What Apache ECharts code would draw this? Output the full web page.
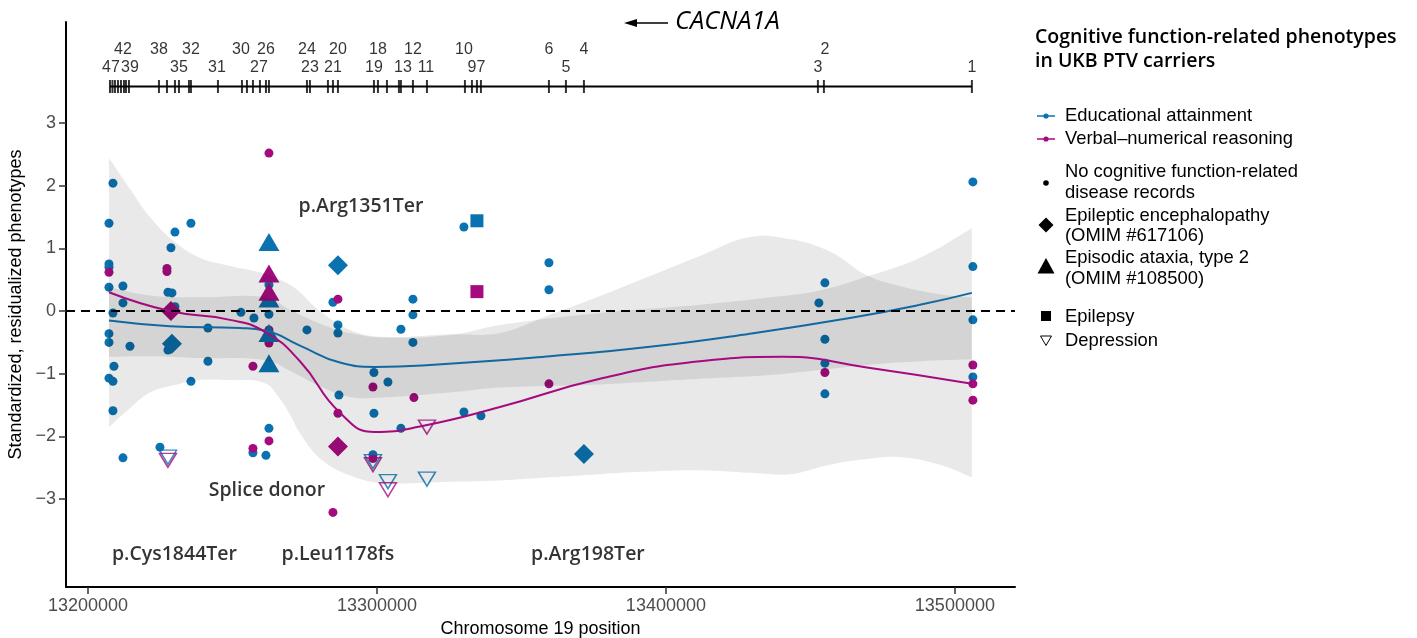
<!DOCTYPE html>
<html><head><meta charset="utf-8">
<script src="https://cdn.jsdelivr.net/npm/echarts@6/dist/echarts.min.js"></script>
<style>html,body{margin:0;padding:0;background:#fff}#c{width:1417px;height:638px}</style>
</head><body><div id="c"></div>
<script>
// ---------- axes ----------
const X_MIN = 13192400, X_MAX = 13520800, Y_MIN = -4.40, Y_MAX = 4.61;
const xTicks = [13200000, 13300000, 13400000, 13500000];
const yTicks = [-3, -2, -1, 0, 1, 2, 3];

// ---------- gene track (CACNA1A exons) ----------
const exonPos = [13207612,13208478,13209343,13210381,13211419,13212457,13213149,13214187,13224567,13227336,13230104,13231488,13234948,13235640,13244983,13253287,13255017,13257093,13259516,13261592,13262630,13275779,13276817,13283045,13284775,13286505,13298962,13300346,13303460,13307612,13308304,13312457,13317301,13330450,13332872,13334602,13335986,13359516,13365398,13371626,13452595,13454671,13505882];
const exonTopLabels = ['42','38','32','30','26','24','20','18','12','10','6','4','2'];
const exonTopPos = [13212111,13224567,13235640,13252941,13261592,13275779,13286505,13300346,13312457,13330104,13359516,13371626,13455017];
const exonBottomLabels = ['47','39','35','31','27','23','21','19','13','11','9','7','5','3','1'];
const exonBottomPos = [13207958,13214533,13231488,13244637,13259170,13276817,13284775,13298962,13308997,13316955,13332872,13335986,13365398,13452595,13505882];

// ---------- points: [position, standardized phenotype] ----------
const eaCircles = [
 [13207266,1.40],[13208651,2.04],[13207266,0.75],[13207266,0.70],[13207266,0.38],[13212111,0.40],[13212111,0.13],
 [13208651,-0.03],[13207266,-0.36],[13207266,-0.50],[13214533,-0.56],[13208997,-0.88],[13207266,-1.07],[13208651,-1.12],
 [13208651,-1.59],[13212111,-2.34],
 [13235640,1.40],[13230104,1.26],[13228720,1.01],[13227682,0.30],[13229066,0.29],[13230104,0.07],[13227682,-0.62],
 [13235640,-1.12],[13224913,-2.17],
 [13241522,-0.27],[13241522,-0.80],[13252941,-0.02],[13257439,-0.11],[13262630,-0.05],[13262630,0.42],
 [13262630,-1.87],[13257093,-2.26],[13261592,-2.30],
 [13275779,-0.30],[13284775,0.14],[13286505,-0.22],[13286505,-0.35],[13286851,-1.34],
 [13312457,0.19],[13312457,-0.06],[13308304,-0.29],[13312457,-0.50],
 [13298962,-0.98],[13303806,-1.13],[13298962,-1.63],[13308304,-1.87],[13298616,-2.29],
 [13330104,1.34],[13330104,-1.61],[13335986,-1.67],
 [13359516,0.77],[13359516,0.34],
 [13455017,0.45],[13452941,0.13],[13455017,-0.45],[13455017,-0.83],[13455017,-1.32],
 [13506228,2.06],[13506228,0.71],[13506228,-0.14],[13506228,-1.05]
];
const vnrCircles = [
 [13207266,0.62],[13227336,0.68],[13227336,0.63],
 [13262630,2.52],[13262630,-0.30],[13262630,-0.51],[13257093,-0.88],[13262630,-2.07],[13257093,-2.19],
 [13286505,0.19],[13286505,-1.63],[13284775,-3.21],
 [13298616,-1.21],[13298616,-2.35],[13312803,-1.38],
 [13359516,-1.16],[13455017,-0.98],
 [13506228,-0.86],[13506228,-1.16],[13506228,-1.42]
];
const eaTriangles = [[13262630,1.10],[13262630,0.20],[13262630,-0.35],[13262630,-0.83]];
const vnrTriangles = [[13262630,0.60],[13262630,0.31]];
const eaDiamonds = [[13286505,0.73],[13229066,-0.52],[13371626,-2.28]];
const vnrDiamonds = [[13228720,0.00],[13286505,-2.16]];
const eaSquares = [[13334602,1.44]];
const vnrSquares = [[13334602,0.31]];
const eaDepression = [[13227682,-2.33],[13298616,-2.40],[13303806,-2.72],[13317301,-2.68]];
const vnrDepression = [[13227682,-2.38],[13298616,-2.45],[13303806,-2.85],[13317301,-1.85]];

// ---------- smooth fits ----------
const eaFitPos = [13207266,13228374,13252595,13261246,13273356,13287197,13299308,13318339,13359861,13394464,13429066,13463668,13487889,13505882];
const eaFit = [-0.15,-0.24,-0.27,-0.31,-0.55,-0.82,-0.89,-0.86,-0.72,-0.57,-0.36,-0.11,0.10,0.29];
const vnrFitPos = [13207266,13228374,13249135,13261246,13273356,13287197,13299308,13314879,13342561,13377163,13411765,13440485,13469550,13505882];
const vnrFit = [0.30,0.00,-0.14,-0.33,-0.80,-1.62,-1.93,-1.84,-1.53,-1.08,-0.80,-0.73,-0.90,-1.16];

// ---------- confidence ribbons ----------
const eaRibPos = [13207266,13221453,13238754,13261246,13269896,13280277,13290657,13302076,13325260,13342561,13377163,13411765,13435986,13453287,13469550,13487889,13505882];
const eaRibUpper = [0.38,0.25,0.22,0.22,0.02,-0.20,-0.35,-0.42,-0.38,-0.22,-0.03,0.10,0.22,0.33,0.55,0.85,1.32];
const eaRibLower = [-0.73,-0.72,-0.75,-0.78,-0.95,-1.20,-1.37,-1.38,-1.30,-1.22,-1.17,-1.08,-1.02,-0.94,-0.86,-0.80,-0.77];
const vnrRibPos = [13207266,13214533,13221453,13230104,13238754,13249135,13261246,13266436,13269896,13273356,13280277,13290657,13302076,13325260,13342561,13359861,13377163,13394464,13411765,13429066,13442907,13456747,13469550,13480969,13494810,13505882];
const vnrRibUpper = [2.44,1.95,1.50,1.10,0.85,0.72,0.60,0.50,0.42,0.30,0.00,-0.30,-0.41,-0.37,-0.35,-0.06,0.24,0.56,0.88,1.18,1.15,0.95,0.57,0.40,0.27,0.22];
const vnrRibLower = [-1.85,-1.55,-1.30,-1.18,-1.10,-1.10,-1.15,-1.40,-1.65,-1.95,-2.35,-2.62,-2.74,-2.72,-2.70,-2.65,-2.60,-2.56,-2.54,-2.58,-2.60,-2.45,-2.36,-2.33,-2.45,-2.65];

// ---------- annotations ----------
const annoText = ['p.Arg1351Ter','Splice donor','p.Cys1844Ter','p.Leu1178fs','p.Arg198Ter'];
const annoPos = [13294464,13261938,13229931,13286505,13373010];
const annoVal = [1.676,-2.854,-3.875,-3.875,-3.875];

const BLUE = '#0A72B0', MAG = '#A50B7E';
const SANS = '"Liberation Sans", Arial, sans-serif';
const MYR = '"Open Sans", sans-serif';
const TRACK_Y = 3.581, ROW1_Y = 4.163, ROW2_Y = 3.876;

const chart = echarts.init(document.getElementById('c'), null, {renderer: 'canvas'});

function ribbon(pos, up, lo) {
  return {
    type: 'custom', coordinateSystem: 'cartesian2d', z: 3, silent: true,
    data: [[pos[0], up[0]]], encode: {x: 0, y: 1}, clip: false,
    renderItem: function (params, api) {
      const u = pos.map((p, i) => api.coord([p, up[i]]));
      const l = pos.map((p, i) => api.coord([p, lo[i]])).reverse();
      const pts = [u[0]].concat(u, [u[u.length - 1], l[0]], l, [l[l.length - 1]]);
      return {type: 'polygon', shape: {points: pts, smooth: 0.4}, style: {fill: 'rgba(0,0,0,0.085)'}};
    }
  };
}
function scat(data, color, symbol, size) {
  return {type: 'scatter', data: data, symbol: symbol, symbolSize: size, z: 2, silent: true,
    itemStyle: {color: color, opacity: 1}};
}
function hollow(data, color) {
  return {type: 'scatter', data: data, symbol: 'triangle', symbolRotate: 180, symbolSize: [17, 14], z: 2, silent: true,
    itemStyle: {color: 'rgba(0,0,0,0)', borderColor: color, borderWidth: 1.5}};
}
function textSeries(names, pos, val, font, size, weight) {
  return {type: 'scatter', symbolSize: 1, z: 6, silent: true, itemStyle: {color: 'rgba(0,0,0,0)'},
    data: names.map((n, i) => ({name: n, value: [pos[i], val[i]]})),
    label: {show: true, position: 'inside', formatter: '{b}', color: '#000', fontFamily: font, fontSize: size, fontWeight: weight,
      align: 'center', verticalAlign: 'middle'}};
}

const series = [
  scat(eaCircles, BLUE, 'circle', 9),
  scat(vnrCircles, MAG, 'circle', 9),
  scat(eaDiamonds, BLUE, 'diamond', [20, 20]),
  scat(eaTriangles, BLUE, 'triangle', [21, 18]),
  scat(eaSquares, BLUE, 'rect', 13),
  scat(vnrDiamonds, MAG, 'diamond', [20, 20]),
  scat(vnrTriangles, MAG, 'triangle', [21, 18]),
  scat(vnrSquares, MAG, 'rect', 13),
  hollow(eaDepression, BLUE),
  hollow(vnrDepression, MAG),
  ribbon(eaRibPos, eaRibUpper, eaRibLower),
  ribbon(vnrRibPos, vnrRibUpper, vnrRibLower),
  {type: 'line', data: eaFitPos.map((p, i) => [p, eaFit[i]]), smooth: 0.5, showSymbol: false, symbol: 'none', z: 4, silent: true,
    lineStyle: {color: '#1268A0', width: 2}},
  {type: 'line', data: vnrFitPos.map((p, i) => [p, vnrFit[i]]), smooth: 0.5, showSymbol: false, symbol: 'none', z: 4, silent: true,
    lineStyle: {color: MAG, width: 2},
    markLine: {silent: true, symbol: 'none', label: {show: false}, z: 5,
      lineStyle: {color: '#000', type: [9, 6], width: 2}, data: [{yAxis: 0}]}},
  // gene track
  {type: 'line', data: [[exonPos[0], TRACK_Y], [exonPos[exonPos.length - 1], TRACK_Y]], showSymbol: false, symbol: 'none', z: 5, silent: true,
    lineStyle: {color: '#000', width: 2}},
  {type: 'scatter', data: exonPos.map(p => [p, TRACK_Y]), symbol: 'rect', symbolSize: [2, 13], z: 5, silent: true, itemStyle: {color: '#000'}},
  textSeries(exonTopLabels, exonTopPos, exonTopLabels.map(() => ROW1_Y), SANS, 16, 'normal'),
  textSeries(exonBottomLabels, exonBottomPos, exonBottomLabels.map(() => ROW2_Y), SANS, 16, 'normal'),
  textSeries(annoText, annoPos, annoVal, MYR, 19.5, 600)
];

const legendFont = '18.4px ' + SANS;
function ltext(t, x, y, font) {
  return {type: 'text', x: x, y: y, style: {text: t, fill: '#000', font: font || legendFont, verticalAlign: 'middle', textVerticalAlign: 'middle'}};
}
const LX = 1046, TX = 1065;
const graphic = [
  // CACNA1A label with arrow
  {type: 'line', shape: {x1: 634, y1: 23, x2: 668, y2: 23}, style: {stroke: '#000', lineWidth: 1.5}},
  {type: 'polygon', shape: {points: [[624, 23], [637, 19], [637, 27]]}, style: {fill: '#000'}},
  ltext('CACNA1A', 675, 22, 'italic 25.5px ' + MYR),
  // legend
  ltext('Cognitive function-related phenotypes', 1035, 37, '600 19.5px ' + MYR),
  ltext('in UKB PTV carriers', 1035, 61, '600 19.5px ' + MYR),
  {type: 'line', shape: {x1: 1037, y1: 116, x2: 1055, y2: 116}, style: {stroke: BLUE, lineWidth: 1.5}},
  {type: 'circle', shape: {cx: LX, cy: 116, r: 2.6}, style: {fill: BLUE}},
  ltext('Educational attainment', TX, 116),
  {type: 'line', shape: {x1: 1037, y1: 139, x2: 1055, y2: 139}, style: {stroke: MAG, lineWidth: 1.5}},
  {type: 'circle', shape: {cx: LX, cy: 139, r: 2.6}, style: {fill: MAG}},
  ltext('Verbal\u2013numerical reasoning', TX, 139),
  {type: 'circle', shape: {cx: LX, cy: 183, r: 2.8}, style: {fill: '#000'}},
  ltext('No cognitive function-related', TX, 172),
  ltext('disease records', TX, 193),
  {type: 'polygon', shape: {points: [[LX, 217.5], [LX + 7.5, 225], [LX, 232.5], [LX - 7.5, 225]]}, style: {fill: '#000'}},
  ltext('Epileptic encephalopathy', TX, 216),
  ltext('(OMIM #617106)', TX, 236),
  {type: 'polygon', shape: {points: [[LX, 258], [LX + 8.5, 273.5], [LX - 8.5, 273.5]]}, style: {fill: '#000'}},
  ltext('Episodic ataxia, type 2', TX, 258),
  ltext('(OMIM #108500)', TX, 279),
  {type: 'rect', shape: {x: LX - 5, y: 311, width: 10, height: 10}, style: {fill: '#000'}},
  ltext('Epilepsy', TX, 317),
  {type: 'polygon', shape: {points: [[LX - 5.5, 336], [LX + 5.5, 336], [LX, 345.5]]}, style: {fill: 'none', stroke: '#000', lineWidth: 1}},
  ltext('Depression', TX, 341)
];

chart.setOption({
  animation: false,
  backgroundColor: '#fff',
  textStyle: {fontFamily: SANS},
  grid: {left: 66, right: 402, top: 22, bottom: 51, containLabel: false, outerBoundsMode: 'none'},
  xAxis: {
    type: 'value', min: X_MIN, max: X_MAX,
    axisLine: {onZero: false, lineStyle: {color: '#000', width: 2}},
    axisTick: {show: true, length: 7, customValues: xTicks, lineStyle: {color: '#333', width: 1.5}},
    axisLabel: {customValues: xTicks, formatter: v => String(v), color: '#4D4D4D', fontSize: 18, fontFamily: SANS, margin: 10},
    splitLine: {show: false},
    name: 'Chromosome 19 position', nameLocation: 'middle', nameGap: 30,
    nameTextStyle: {color: '#000', fontSize: 18, fontFamily: SANS}
  },
  yAxis: {
    type: 'value', min: Y_MIN, max: Y_MAX,
    axisLine: {onZero: false, lineStyle: {color: '#000', width: 2}},
    axisTick: {show: true, length: 7, customValues: yTicks, lineStyle: {color: '#333', width: 1.5}},
    axisLabel: {customValues: yTicks, formatter: v => (v < 0 ? '\u2212' + Math.abs(v) : String(v)), color: '#4D4D4D', fontSize: 18, fontFamily: SANS, margin: 10},
    splitLine: {show: false},
    name: 'Standardized, residualized phenotypes', nameLocation: 'middle', nameGap: 40, nameRotate: 90,
    nameTextStyle: {color: '#000', fontSize: 18, fontFamily: SANS}
  },
  series: series,
  graphic: graphic
});
</script></body></html>
